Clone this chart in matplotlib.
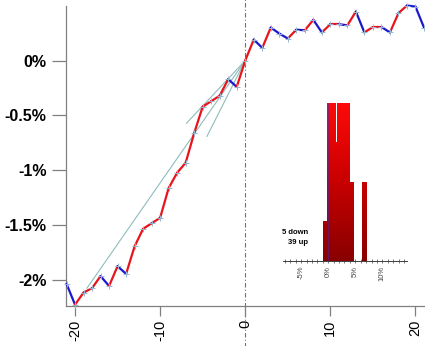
import numpy as np
import matplotlib
matplotlib.use("Agg")
import matplotlib.pyplot as plt
from matplotlib.colors import LinearSegmentedColormap

plt.rcParams['font.family'] = ['Liberation Sans', 'DejaVu Sans']

# ---- data ----
days = list(range(-21, 22))
cum_ret = [-2.03, -2.22, -2.11, -2.07, -1.96, -2.05, -1.87, -1.94, -1.69, -1.53,
           -1.48, -1.43, -1.16, -1.02, -0.93, -0.66, -0.42, -0.37, -0.32, -0.17,
           -0.24, 0.00, 0.19, 0.115, 0.30, 0.245, 0.20, 0.28, 0.275, 0.37,
           0.255, 0.33, 0.33, 0.32, 0.445, 0.255, 0.305, 0.305, 0.255, 0.43,
           0.50, 0.49, 0.30]
trend_starts_x = [-18.6, -6.9, -4.5]
trend_starts_y = [-2.07, -0.57, -0.69]
yticks = [0, -0.5, -1, -1.5, -2]
ytick_labels = ["0%", "-0.5%", "-1%", "-1.5%", "-2%"]
xticks = [-20, -10, 0, 10, 20]

hist_left = [-1.04, -0.3, 1.28, 1.62, 4.0, 6.3]
hist_width = [0.74, 1.58, 0.34, 2.38, 0.7, 0.9]
hist_count = [1, 4, 3, 4, 2, 2]
hist_ticks = [-5, 0, 5, 10]
hist_tick_labels = ["-5%", "0%", "5%", "10%"]
n_down, n_up = 5, 39

# ---- figure ----
W, H = 425, 346
fig = plt.figure(figsize=(W / 100, H / 100), dpi=100)
ax = fig.add_axes([66 / W, 1 - 306 / H, 1 - 66 / W, 300 / H])
ax.set_xlim(-21.06, 21.12)
ax.set_ylim(-2.232, 0.4955)

grey = '#808080'
for s in ['top', 'right']:
    ax.spines[s].set_visible(False)
for s in ['left', 'bottom']:
    ax.spines[s].set_color(grey)
    ax.spines[s].set_linewidth(0.9)

ax.set_yticks(yticks)
ax.set_yticklabels(ytick_labels, fontsize=11.5, fontweight='bold')
ax.set_xticks(xticks)
ax.set_xticklabels([str(v) for v in xticks], fontsize=10.5, rotation=90)
ax.tick_params(axis='y', length=10, width=0.9, color=grey, pad=4)
ax.tick_params(axis='x', length=7, width=0.9, color=grey, pad=3)

# vertical dash-dot line at 0 spanning whole figure
ax.axvline(0, ymin=-0.14, ymax=1.03, clip_on=False, color='#707070',
           lw=0.8, linestyle=(0, (4, 2, 1, 2)), zorder=1)

# trend lines
for sx, sy in zip(trend_starts_x, trend_starts_y):
    ax.plot([sx, 0], [sy, 0], color='#8fbcbc', lw=0.8, zorder=2)

# colored segments
for i in range(len(days) - 1):
    up = cum_ret[i + 1] >= cum_ret[i]
    ax.plot(days[i:i + 2], cum_ret[i:i + 2],
            color='#e8141c' if up else '#1a1acc', lw=1.6,
            solid_capstyle='round', zorder=3, clip_on=False)
ax.plot(days, cum_ret, linestyle='none', marker='+', ms=4, mew=0.7,
        color='#98b4d4', zorder=4, clip_on=False)

# ---- inset histogram ----
ax2 = fig.add_axes([282.7 / W, 1 - 261 / H, 124 / W, 158.3 / H])
ax2.set_xlim(-8.4, 14.5)
ax2.set_ylim(0, 4)
ax2.patch.set_alpha(0)
for s in ['top', 'right', 'left']:
    ax2.spines[s].set_visible(False)
ax2.spines['bottom'].set_color('#404040')
ax2.spines['bottom'].set_linewidth(0.7)
ax2.set_yticks([])
ax2.set_xticks(hist_ticks)
ax2.set_xticklabels(hist_tick_labels, rotation=90, fontsize=5.5, color='#444444')
ax2.set_xticks(list(range(-8, 15)), minor=True)
ax2.tick_params(axis='x', which='both', direction='inout', length=3,
                width=0.5, color='#404040', pad=2)

cmap = LinearSegmentedColormap.from_list('rg', ['#880000', '#c80000', '#ff0a0a'])
grad = np.linspace(0, 1, 256).reshape(-1, 1)
bars = ax2.bar(hist_left, hist_count, width=hist_width, align='edge',
               color='none', edgecolor='none')
for b in bars:
    im = ax2.imshow(grad, cmap=cmap, origin='lower', aspect='auto',
                    extent=(-8.4, 14.5, 0, 4), zorder=2)
    im.set_clip_path(b)
ax2.set_xlim(-8.4, 14.5)
ax2.set_ylim(0, 4)
ax2.plot([0, 0], [0, 4], color='#3030c0', lw=1.0, alpha=0.45, zorder=3)

fig.text(308 / W, 1 - 232 / H, f"{n_down} down", ha='right', va='center',
         fontsize=5.5, fontweight='bold')
fig.text(308 / W, 1 - 243 / H, f"{n_up} up", ha='right', va='center',
         fontsize=5.5, fontweight='bold')

fig.savefig('out.png', dpi=100)
